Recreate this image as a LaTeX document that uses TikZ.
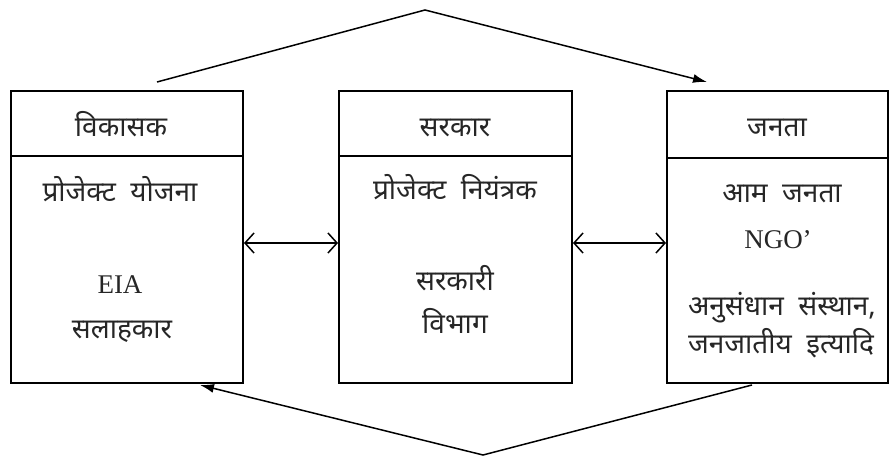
\documentclass[tikz,border=0pt]{standalone}
\usepackage{fontspec}
\setmainfont{Liberation Serif}
\newfontfamily\deva[Script=Devanagari,WordSpace=2.0]{Noto Sans}
\usetikzlibrary{arrows.meta}
\begin{document}
\begin{tikzpicture}[x=1pt,y=-1pt,
  box/.style={draw, line width=2pt, inner sep=0pt, anchor=north west},
  rule/.style={line width=2pt},
  dt/.style={font=\deva\fontsize{28}{32}\selectfont, inner sep=0pt, anchor=base, text=black!85},
  lt/.style={font=\fontsize{27}{31}\selectfont, inner sep=0pt, anchor=base, text=black!85},
  link/.style={line width=1.5pt, -{Latex[length=14pt,width=9pt]}},
  dbl/.style={line width=1.5pt, {Straight Barb[length=9pt,width=20pt,line width=1.5pt]}-{Straight Barb[length=9pt,width=20pt,line width=1.5pt]}}]
\useasboundingbox (0,0) rectangle (889,457);
% boxes
\node[box, minimum width=232pt, minimum height=292pt] (b1) at (10,90) {};
\node[box, minimum width=233pt, minimum height=292pt] (b2) at (338,90) {};
\node[box, minimum width=221pt, minimum height=292pt] (b3) at (666,90) {};
\draw[rule] ([yshift=-66pt]b1.north west) -- ([yshift=-66pt]b1.north east);
\draw[rule] ([yshift=-66pt]b2.north west) -- ([yshift=-66pt]b2.north east);
\draw[rule] ([yshift=-68pt]b3.north west) -- ([yshift=-68pt]b3.north east);
% box 1 texts
\node[dt] (h1) at (121,137) {विकासक};
\node[dt] (p1) at (120,202) {प्रोजेक्ट योजना};
\node[lt] (e1) at (120,293) {EIA};
\node[dt] (s1) at (122,338) {सलाहकार};
% box 2 texts
\node[dt] (h2) at (455,137) {सरकार};
\node[dt] (p2) at (455,200) {प्रोजेक्ट नियंत्रक};
\node[dt] (s2) at (455,290) {सरकारी};
\node[dt] (v2) at (455,333) {विभाग};
% box 3 texts
\node[dt] (h3) at (777,137) {जनता};
\node[dt] (a3) at (782,203) {आम जनता};
\node[lt] (n3) at (778,248) {NGO’};
\node[dt] (r3) at (782,315) {अनुसंधान संस्थान,};
\node[dt] (j3) at (781,353) {जनजातीय इत्यादि};
% connectors
\coordinate (t1) at (157,82);
\coordinate (tp) at (425,10);
\coordinate (t2) at (707,82);
\coordinate (u1) at (752,385);
\coordinate (up) at (483,455);
\coordinate (u2) at (200,385);
\draw[link] (t1) -- (tp) -- (t2);
\draw[link] (u1) -- (up) -- (u2);
\draw[dbl] ([yshift=-6pt]b1.east) -- ([yshift=-6pt]b2.west);
\draw[dbl] ([yshift=-6pt]b2.east) -- ([yshift=-6pt]b3.west);
\end{tikzpicture}
\end{document}
